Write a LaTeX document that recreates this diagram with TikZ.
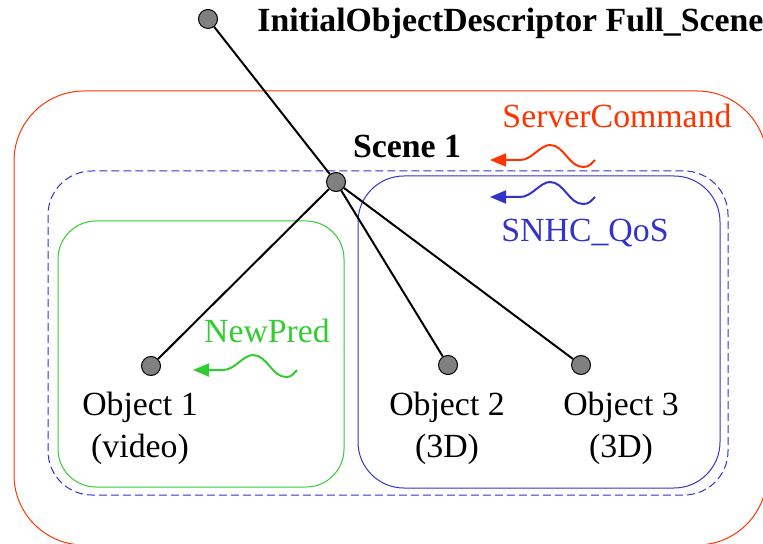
\documentclass[tikz,border=0pt]{standalone}
\usepackage{fontspec}
\setmainfont{Liberation Serif}
\usetikzlibrary{arrows.meta}

\definecolor{cmdred}{RGB}{255,51,0}
\definecolor{qosblue}{RGB}{51,51,204}
\definecolor{predgreen}{RGB}{51,204,51}

% wavy tail of a message arrow, from the tip up to the last trough
\newcommand{\wavytail}{-- ++(30,0) .. controls +(12,0) and +(-10,0) .. ++(30,-15)
  .. controls +(14,0) and +(-14,0) .. ++(33,22) .. controls +(6,0) and +(-4,4) ..}

\begin{document}
\begin{tikzpicture}[x=0.5pt, y=-0.5pt,
    obj/.style={circle, draw=black, fill=black!50, minimum size=9.5pt, inner sep=0pt, line width=0.5pt},
    link/.style={line width=1pt},
    txt/.style={font=\fontsize{16.9}{21}\selectfont, inner sep=0pt, anchor=base},
    wave/.style={line width=1pt, {Triangle[length=8pt,width=6.5pt]}-},
    box/.style={line width=0.5pt, rounded corners=#1}
]
\useasboundingbox (0,0) rectangle (763,544);
\clip (0,0) rectangle (763,544);

% regions
\draw[box=35pt, cmdred] (14,91) rectangle (767,545);
\draw[box=22pt, qosblue, dashed, dash pattern=on 4pt off 2pt] (48,171) rectangle (728,495);
\draw[box=19pt, predgreen] (58,221) rectangle (344,487);
\draw[box=23pt, qosblue] (358,176) rectangle (720,488);

% scene tree
\node[obj] (root) at (208,19) {};
\node[obj] (scene) at (336,182) {};
\node[obj] (obj1) at (151,366) {};
\node[obj] (obj2) at (448,365) {};
\node[obj] (obj3) at (581,365) {};

\draw[link] (root) -- (scene);
\draw[link] (scene) -- (obj1);
\draw[link] (scene) -- (obj2);
\draw[link] (scene) -- (obj3);

% labels (base of a two-line label is its second line)
\node[txt, anchor=base west, font=\fontsize{16.9}{21}\selectfont\bfseries] (iod) at (257,32) {InitialObjectDescriptor Full\_Scene};
\node[txt, font=\fontsize{16.9}{21}\selectfont\bfseries] (scenelbl) at (407,158) {Scene 1};
\node[txt, align=center] (obj1lbl) at (140,457) {Object 1\\(video)};
\node[txt, align=center] (obj2lbl) at (447,457) {Object 2\\(3D)};
\node[txt, align=center] (obj3lbl) at (621,457) {Object 3\\(3D)};
\node[txt, text=cmdred] (cmdlbl) at (617,128) {ServerCommand};
\node[txt, text=qosblue] (qoslbl) at (585,242) {SNHC\_QoS};
\node[txt, text=predgreen] (predlbl) at (267,343) {NewPred};

% message arrows
\coordinate (cmdtip) at (490,160);
\coordinate (cmdend) at (595,160);
\coordinate (qostip) at (490,197);
\coordinate (qosend) at (595,197);
\coordinate (predtip) at (193,370);
\coordinate (predend) at (297,370);

\draw[wave, cmdred] (cmdtip) \wavytail (cmdend);
\draw[wave, qosblue] (qostip) \wavytail (qosend);
\draw[wave, predgreen] (predtip) \wavytail (predend);
\end{tikzpicture}
\end{document}
